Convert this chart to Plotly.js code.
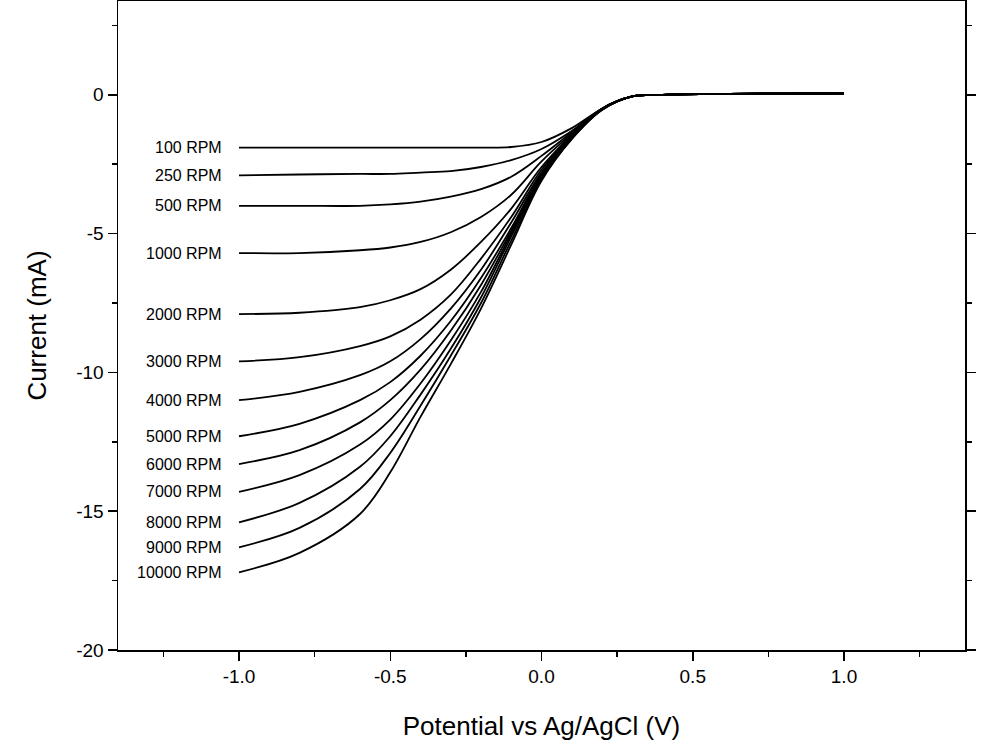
<!DOCTYPE html>
<html>
<head>
<script src="https://cdn.plot.ly/plotly-3.0.1.min.js"></script>
<style>body{margin:0;background:#fff}</style>
</head>
<body>
<div id="chart" style="width:984px;height:756px"></div>
<script>
// potential (V) sample points shared by all sweeps
var potential = [-1, -0.8, -0.6, -0.5, -0.4, -0.3, -0.2, -0.1, 0, 0.1, 0.2, 0.3, 0.4, 1.0];
var labels = ["100 RPM", "250 RPM", "500 RPM", "1000 RPM", "2000 RPM", "3000 RPM", "4000 RPM",
              "5000 RPM", "6000 RPM", "7000 RPM", "8000 RPM", "9000 RPM", "10000 RPM"];
var xTicks = [-1.0, -0.5, 0.0, 0.5, 1.0];
var xTickText = ["-1.0", "-0.5", "0.0", "0.5", "1.0"];
var yTicks = [-20, -15, -10, -5, 0];
var yTickText = ["-20", "-15", "-10", "-5", "0"];
var rpm100   = [-1.9, -1.9, -1.9, -1.9, -1.9, -1.9, -1.9, -1.88, -1.7, -1.2, -0.5, -0.06, 0, 0.05];
var rpm250   = [-2.9, -2.87, -2.85, -2.85, -2.8, -2.75, -2.6, -2.35, -1.95, -1.3, -0.5, -0.06, 0, 0.05];
var rpm500   = [-4.0, -4.0, -4.0, -3.95, -3.85, -3.67, -3.4, -2.95, -2.2, -1.35, -0.5, -0.06, 0, 0.05];
var rpm1000  = [-5.7, -5.7, -5.6, -5.5, -5.3, -4.95, -4.4, -3.6, -2.4, -1.4, -0.5, -0.06, 0, 0.05];
var rpm2000  = [-7.9, -7.85, -7.65, -7.4, -7.0, -6.3, -5.3, -4.1, -2.6, -1.45, -0.5, -0.06, 0, 0.05];
var rpm3000  = [-9.6, -9.45, -9.05, -8.7, -8.1, -7.2, -5.9, -4.4, -2.7, -1.45, -0.5, -0.06, 0, 0.05];
var rpm4000  = [-11.0, -10.7, -10.1, -9.6, -8.8, -7.7, -6.3, -4.6, -2.8, -1.5, -0.52, -0.06, 0, 0.05];
var rpm5000  = [-12.3, -11.85, -11.0, -10.35, -9.4, -8.15, -6.6, -4.8, -2.85, -1.5, -0.52, -0.06, 0, 0.05];
var rpm6000  = [-13.3, -12.8, -11.8, -11.0, -9.9, -8.5, -6.85, -4.9, -2.9, -1.52, -0.53, -0.06, 0, 0.05];
var rpm7000  = [-14.3, -13.7, -12.6, -11.7, -10.4, -8.85, -7.1, -5.0, -2.95, -1.55, -0.53, -0.06, 0, 0.05];
var rpm8000  = [-15.4, -14.7, -13.4, -12.3, -10.8, -9.15, -7.3, -5.1, -3.0, -1.57, -0.54, -0.06, 0, 0.05];
var rpm9000  = [-16.3, -15.6, -14.2, -12.9, -11.2, -9.4, -7.5, -5.25, -3.05, -1.58, -0.54, -0.06, 0, 0.05];
var rpm10000 = [-17.2, -16.5, -15.1, -13.6, -11.6, -9.7, -7.7, -5.4, -3.1, -1.6, -0.55, -0.06, 0, 0.05];

var series = [rpm100, rpm250, rpm500, rpm1000, rpm2000, rpm3000, rpm4000,
              rpm5000, rpm6000, rpm7000, rpm8000, rpm9000, rpm10000];

var data = series.map(function(s) {
    return {x: potential, y: s, mode: 'lines', type: 'scatter',
            line: {color: 'black', width: 1.8, shape: 'spline', smoothing: 1},
            hoverinfo: 'none'};
});

var annotations = series.map(function(s, i) {
    return {x: -1.05, y: s[0], xref: 'x', yref: 'y', text: labels[i], showarrow: false,
            xanchor: 'right', yanchor: 'middle', font: {family: 'Arial, Liberation Sans', size: 16, color: 'black'}};
});

var axisBase = {showgrid: false, zeroline: false, showline: true, linecolor: 'black', linewidth: 1.5,
                mirror: 'ticks', ticks: 'outside', ticklen: 9, tickwidth: 1.5, tickcolor: 'black',
                tickfont: {family: 'Arial, Liberation Sans', size: 19, color: 'black'}};

var layout = {
    width: 984, height: 756,
    margin: {l: 118, r: 19, t: 1, b: 106},
    showlegend: false,
    paper_bgcolor: 'white', plot_bgcolor: 'white',
    annotations: annotations,
    xaxis: Object.assign({}, axisBase, {
        range: [-1.4, 1.4], tickmode: 'array', tickvals: xTicks, ticktext: xTickText,
        minor: {dtick: 0.25, ticks: 'outside', ticklen: 5, tickcolor: 'black'},
        title: {text: 'Potential vs Ag/AgCl (V)', standoff: 30,
                font: {family: 'Arial, Liberation Sans', size: 26, color: 'black'}}
    }),
    yaxis: Object.assign({}, axisBase, {
        range: [-20, 3.38], tickmode: 'array', tickvals: yTicks, ticktext: yTickText,
        minor: {dtick: 2.5, ticks: 'outside', ticklen: 5, tickcolor: 'black'},
        title: {text: 'Current (mA)', standoff: 22,
                font: {family: 'Arial, Liberation Sans', size: 26, color: 'black'}}
    })
};

Plotly.newPlot('chart', data, layout, {displayModeBar: false, staticPlot: true});
</script>
</body>
</html>
